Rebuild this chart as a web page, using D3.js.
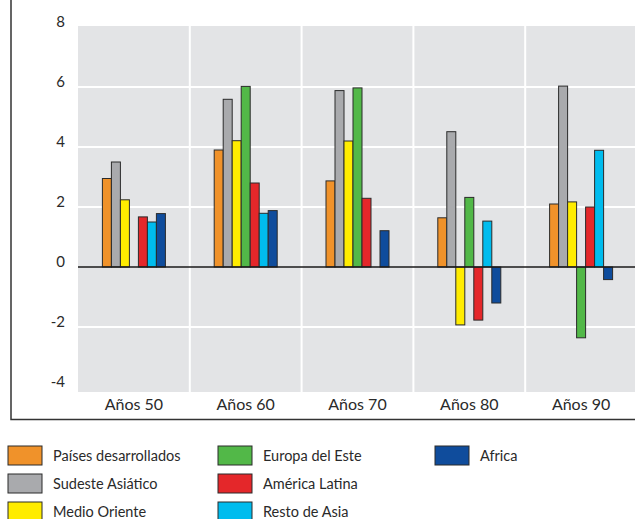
<!DOCTYPE html>
<html><head><meta charset="utf-8">
<script src="https://cdn.jsdelivr.net/npm/d3@7"></script>
<style>body{margin:0;background:#fff}svg{display:block}text{font-family:Lato,"Open Sans",sans-serif;fill:#2a2a2a}</style>
</head><body>
<script>
const categories = ["Años 50","Años 60","Años 70","Años 80","Años 90"];
const seriesNames = ["Países desarrollados","Sudeste Asiático","Medio Oriente","Europa del Este","América Latina","Resto de Asia","Africa"];
const seriesColors = ["#f0922a","#a9aaad","#ffec00","#52b848","#e4272a","#00bcee","#0f4c9c"];
const paises = [2.95, 3.9, 2.87, 1.64, 2.1];
const sudeste = [3.5, 5.59, 5.88, 4.51, 6.03];
const medio = [2.24, 4.21, 4.2, -1.93, 2.17];
const europa = [null, 6.02, 5.97, 2.32, -2.36];
const america = [1.67, 2.8, 2.29, -1.77, 2.0];
const resto = [1.5, 1.79, null, 1.53, 3.89];
const africa = [1.78, 1.88, 1.21, -1.2, -0.42];
const yTicks = [-4,-2,0,2,4,6,8];
const seriesValues = [paises, sudeste, medio, europa, america, resto, africa];

const W = 635, H = 519;
const svg = d3.select("body").append("svg").attr("width", W).attr("height", H);

const x0 = d3.scaleBand().domain(categories).range([78, 637]);
const x1 = d3.scaleBand().domain(seriesNames).range([-31.5, 31.5]);
const y = d3.scaleLinear().domain([-4, 8]).range([387, 27]);

// plot background
svg.append("rect").attr("x", 78).attr("y", 26).attr("width", W - 78).attr("height", 392 - 26).attr("fill", "#e3e4e6");

// horizontal grid
svg.append("g").selectAll("line").data(yTicks.filter(d => d !== 0 && d !== 8 && d !== -4)).join("line")
  .attr("x1", 78).attr("x2", W).attr("y1", d => y(d)).attr("y2", d => y(d))
  .attr("stroke", "#fff").attr("stroke-width", 2);
// vertical separators
svg.append("g").selectAll("line").data(categories.slice(1)).join("line")
  .attr("x1", d => x0(d)).attr("x2", d => x0(d)).attr("y1", 26).attr("y2", 392)
  .attr("stroke", "#fff").attr("stroke-width", 2);

// y labels
svg.append("g").selectAll("text").data(yTicks).join("text")
  .attr("x", 65).attr("y", d => y(d) - 5).attr("dy", "0.35em")
  .attr("text-anchor", "end").attr("font-size", 15).text(d => d);

// bars
const groups = svg.append("g").selectAll("g").data(categories).join("g")
  .attr("transform", d => `translate(${x0(d) + x0.bandwidth() / 2},0)`);
groups.selectAll("rect").data((c, i) => seriesNames.map((s, j) => ({s, j, v: seriesValues[j][i]})).filter(d => d.v !== null))
  .join("rect")
  .attr("x", d => x1(d.s)).attr("width", x1.bandwidth())
  .attr("y", d => y(Math.max(0, d.v))).attr("height", d => Math.abs(y(d.v) - y(0)))
  .attr("fill", d => seriesColors[d.j]).attr("stroke", "#2b2b2b").attr("stroke-width", 1);

// zero line
svg.append("line").attr("x1", 78).attr("x2", W).attr("y1", y(0)).attr("y2", y(0))
  .attr("stroke", "#1a1a1a").attr("stroke-width", 1.6);

// category labels
svg.append("g").selectAll("text").data(categories).join("text")
  .attr("x", d => x0(d) + x0.bandwidth() / 2).attr("y", 404).attr("dy", "0.35em")
  .attr("text-anchor", "middle").attr("font-size", 16).text(d => d);

// frame
svg.append("path").attr("d", `M11,0V419.5H${W}`).attr("fill", "none").attr("stroke", "#333").attr("stroke-width", 1.5);

// legend
const legendPos = [[8,446],[8,474],[8,502],[218,446],[218,474],[218,502],[435,446]];
const lg = svg.append("g").selectAll("g").data(seriesNames).join("g")
  .attr("transform", (d, i) => `translate(${legendPos[i][0]},${legendPos[i][1]})`);
lg.append("rect").attr("width", 34).attr("height", 19)
  .attr("fill", (d, i) => seriesColors[i]).attr("stroke", "#2b2b2b").attr("stroke-width", 1);
lg.append("text").attr("x", 45).attr("y", 9.5).attr("dy", "0.35em").attr("font-size", 14.5).text(d => d);
</script>
</body></html>
